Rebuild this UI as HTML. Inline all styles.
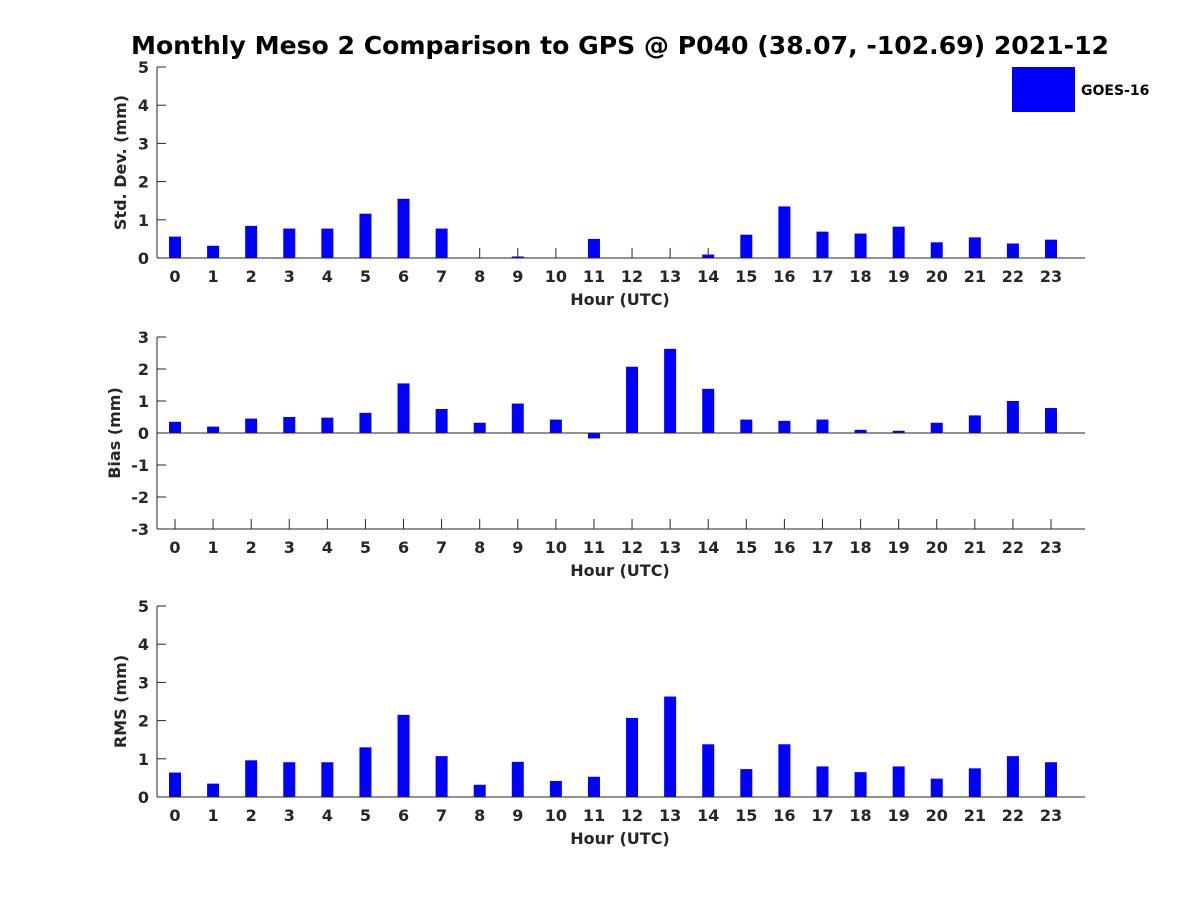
<!DOCTYPE html>
<html><head><meta charset="utf-8"><style>
html,body{margin:0;padding:0;background:#fff;}
svg text{font-family:"DejaVu Sans","Liberation Sans",sans-serif;font-weight:bold;fill:#262626;}
</style></head><body>
<svg id="chart" width="1200" height="900" xmlns="http://www.w3.org/2000/svg">
<text x="620" y="54" text-anchor="middle" font-size="25.1" style="fill:#000">Monthly Meso 2 Comparison to GPS @ P040 (38.07, -102.69) 2021-12</text>
<rect x="1012" y="67" width="63" height="45" fill="#0000ff"/>
<text x="1081" y="95" font-size="14" style="fill:#000">GOES-16</text>
</svg>
<script>
const hours = [0,1,2,3,4,5,6,7,8,9,10,11,12,13,14,15,16,17,18,19,20,21,22,23];
const stdDev = [0.56,0.32,0.84,0.77,0.77,1.16,1.55,0.77,0,0.04,0,0.5,0,0,0.09,0.61,1.35,0.69,0.64,0.82,0.41,0.54,0.38,0.48];
const bias = [0.35,0.2,0.45,0.5,0.48,0.63,1.55,0.75,0.32,0.92,0.42,-0.17,2.07,2.63,1.38,0.42,0.38,0.42,0.1,0.07,0.32,0.55,1.0,0.78];
const rms = [0.64,0.35,0.96,0.91,0.91,1.3,2.15,1.07,0.32,0.92,0.42,0.53,2.07,2.63,1.38,0.73,1.38,0.8,0.65,0.8,0.48,0.75,1.07,0.91];
const stdTicks = [0,1,2,3,4,5];
const biasTicks = [-3,-2,-1,0,1,2,3];
const rmsTicks = [0,1,2,3,4,5];

const svg = document.getElementById('chart');
const NS = 'http://www.w3.org/2000/svg';
function mk(tag, attrs){const e=document.createElementNS(NS,tag);for(const k in attrs)e.setAttribute(k,attrs[k]);svg.appendChild(e);return e;}
const X0=157, X1=1085;
function xScale(h){return 175 + h*(1051-175)/23;}

function panel(key, values, ticks, yMin, yMax, top, bottom, label, titleX){
  const yS = v => bottom - (v - yMin)/(yMax - yMin)*(bottom - top);
  hours.forEach(h=>{
    const t=mk('line',{x1:xScale(h),x2:xScale(h),y1:bottom,y2:bottom-10,stroke:'#262626','stroke-width':1});
    
    
    const l=mk('text',{x:xScale(h),y:bottom+24,'text-anchor':'middle','font-size':16});
    l.textContent=h;
    
    
  });
  values.forEach((v,i)=>{
    const y0=yS(0), y1=yS(v);
    const r=mk('rect',{x:xScale(hours[i])-6,y:Math.min(y0,y1),width:12,height:Math.abs(y1-y0),fill:'#0000ff'});
    
    
  });
  ticks.forEach(v=>{
    const t=mk('line',{x1:X0,x2:X0+9,y1:yS(v),y2:yS(v),stroke:'#262626','stroke-width':1});
    
    
    const l=mk('text',{x:X0-8,y:yS(v)+6,'text-anchor':'end','font-size':16});
    l.textContent=v;
    
    
  });
  const ax=mk('line',{x1:X0,x2:X0,y1:top,y2:bottom,stroke:'#262626','stroke-width':1});
  
  
  const bx=mk('line',{x1:X0,x2:X1,y1:bottom,y2:bottom,stroke:'#262626','stroke-width':1});
  
  
  if(yMin<0){
    const z=mk('line',{x1:X0,x2:X1,y1:yS(0),y2:yS(0),stroke:'#262626','stroke-width':1});
    
    
  }
  const xt=mk('text',{x:620,y:bottom+47,'text-anchor':'middle','font-size':16});
  xt.textContent='Hour (UTC)';
  
  
  const cy=(top+bottom)/2;
  const yt=mk('text',{x:titleX,y:cy,'text-anchor':'middle','font-size':16,transform:'rotate(-90 '+titleX+' '+cy+')'});
  yt.textContent=label;
  
  
}
panel('std-dev', stdDev, stdTicks, 0, 5, 67, 258, 'Std. Dev. (mm)', 126);
panel('bias', bias, biasTicks, -3, 3, 337, 529, 'Bias (mm)', 120);
panel('rms', rms, rmsTicks, 0, 5, 606, 797, 'RMS (mm)', 126);
</script>
</body></html>
